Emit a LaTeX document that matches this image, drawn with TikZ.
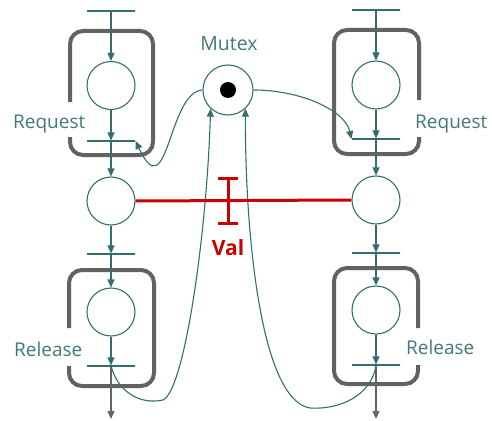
\documentclass[tikz,border=0pt]{standalone}
\usepackage{fontspec}
\setmainfont{Open Sans}
\usetikzlibrary{arrows.meta}
\definecolor{tealline}{RGB}{53,110,110}
\definecolor{tealtext}{RGB}{66,122,122}
\definecolor{boxgray}{RGB}{98,98,98}
\definecolor{redline}{RGB}{204,0,0}
\definecolor{exitgray}{RGB}{100,100,100}
\tikzset{
  place/.style={circle, draw=tealline, line width=1.1pt, minimum size=48pt, inner sep=0pt},
  mutexplace/.style={circle, draw=tealline, line width=1.1pt, minimum size=50pt, inner sep=0pt},
  token/.style={circle, fill=black, minimum size=16pt, inner sep=0pt},
  bar/.style={rectangle, draw=tealline, line width=1.1pt, minimum width=48pt, minimum height=0pt, inner sep=0pt},
  arc/.style={draw=tealline, line width=1.1pt, -{Triangle[length=8pt,width=7pt]}},
  exitarc/.style={draw=exitgray, line width=1.1pt, -{Triangle[length=8pt,width=7pt]}},
  groupbox/.style={draw=boxgray, line width=4pt, rounded corners=13pt},
  lab/.style={text=tealtext, font=\fontsize{19}{22}\selectfont, inner sep=0pt},
  vallab/.style={text=redline, font=\bfseries\fontsize{21}{24}\selectfont, inner sep=0pt},
}
\begin{document}
\begin{tikzpicture}[x=1pt, y=-1pt]
\useasboundingbox (0,0) rectangle (492,420);
\fill[white] (0,0) rectangle (492,420);

% boxes
\draw[groupbox] (70,137) -- (70,155) -- (153,155) -- (153,31) -- (70,31) -- (70,102);
\draw[groupbox] (419,137) -- (419,154) -- (334,154) -- (334,30) -- (419,30) -- (419,100);
\draw[groupbox] (69,366) -- (69,386) -- (154,386) -- (154,270) -- (69,270) -- (69,328);
\draw[groupbox] (418,365) -- (418,384) -- (334,384) -- (334,268) -- (418,268) -- (418,328);

% left column
\node[bar] (t1L) at (111,11) {};
\node[place] (p1L) at (111,85.5) {};
\node[bar] (t2L) at (111,141) {};
\node[place] (p2L) at (111,201) {};
\node[bar] (t3L) at (111,254) {};
\node[place] (p3L) at (111,312) {};
\node[bar] (t4L) at (111,366) {};
\coordinate (eL) at (111,419);

% right column
\node[bar] (t1R) at (376,10) {};
\node[place] (p1R) at (376,85) {};
\node[bar] (t2R) at (376,139) {};
\node[place] (p2R) at (376,200) {};
\node[bar] (t3R) at (376,253) {};
\node[place] (p3R) at (376,310) {};
\node[bar] (t4R) at (376,365) {};
\coordinate (eR) at (376,419);

% mutex
\node[mutexplace] (mutex) at (228,90) {};
\node[token] (tok) at (mutex.center) {};
\node[lab, font=\fontsize{19.5}{22}\selectfont, anchor=base] (mlab) at (229,51) {Mutex};

% labels
\node[lab, anchor=base west] (rqL) at (13,128) {Request};
\node[lab, anchor=base west] (rqR) at (415,128) {Request};
\node[lab, anchor=base west] (rlL) at (14,356) {Release};
\node[lab, anchor=base west] (rlR) at (406,354) {Release};

% flow arcs left
\draw[arc] (t1L) -- (p1L);
\draw[arc] (p1L) -- (t2L);
\draw[arc] (t2L) -- (p2L);
\draw[arc] (p2L) -- (t3L);
\draw[arc] (t3L) -- (p3L);
\draw[arc] (p3L) -- (t4L);
\draw[exitarc] (t4L) -- (eL);

% flow arcs right
\draw[arc] (t1R) -- (p1R);
\draw[arc] (p1R) -- (t2R);
\draw[arc] (t2R) -- (p2R);
\draw[arc] (p2R) -- (t3R);
\draw[arc] (t3R) -- (p3R);
\draw[arc] (p3R) -- (t4R);
\draw[exitarc] (t4R) -- (eR);

% mutex arcs
\draw[arc] (mutex.west) .. controls (168,92) and (168,210) .. (t2L.east);
\draw[arc] (mutex.east) .. controls (300,90) and (345,110) .. (t2R.west);
\draw[arc] (t4L.center) .. controls (118,392) and (140,405) .. (163,400)
  .. controls (185,390) and (207,230) .. (mutex.-133);
\draw[arc] (t4R.center) .. controls (372,395) and (340,410) .. (310,408)
  .. controls (260,400) and (245,230) .. (mutex.-47);

% red val
\draw[redline, line width=3pt] (p2L.east) -- (p2R.west);
\coordinate (v1) at (228,177);
\coordinate (v2) at (228,225);
\draw[redline, line width=3pt, {Bar[width=20pt]}-{Bar[width=20pt]}] (v1) -- (v2);
\node[vallab] (val) at (228,248) {Val};
\end{tikzpicture}
\end{document}
